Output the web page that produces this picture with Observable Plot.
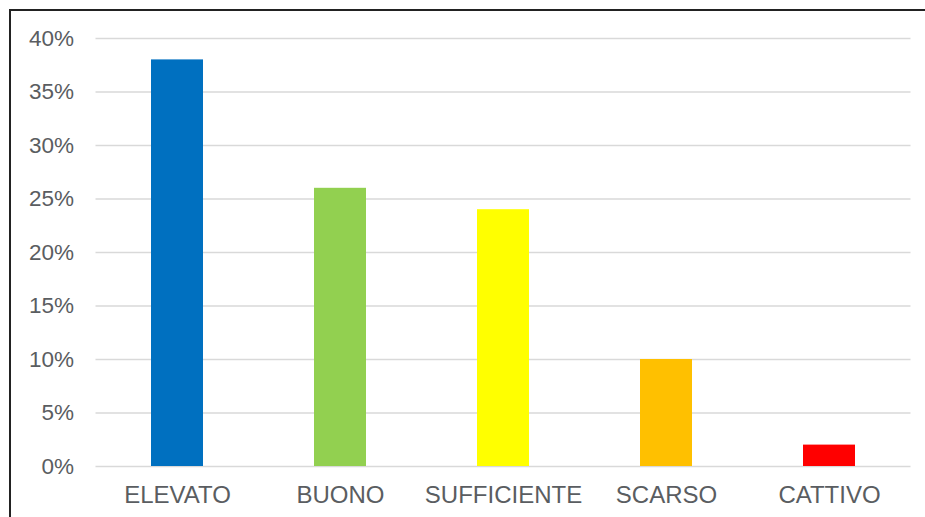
<!DOCTYPE html>
<html>
<head>
<meta charset="utf-8">
<script src="https://cdn.jsdelivr.net/npm/d3@7"></script>
<script src="https://cdn.jsdelivr.net/npm/@observablehq/plot@0.6"></script>
<style>
  html, body { margin: 0; padding: 0; background: #fff; }
  #wrap { position: relative; width: 925px; height: 517px; overflow: hidden; }
  #frame { position: absolute; left: 9px; top: 9px; width: 930px; height: 520px;
           border-left: 2px solid #222; border-top: 2px solid #222; pointer-events: none; }
  svg { display: block; }
</style>
</head>
<body>
<div id="wrap"><div id="frame"></div></div>
<script>
const categories = ["ELEVATO", "BUONO", "SUFFICIENTE", "SCARSO", "CATTIVO"];
const values = [0.38, 0.26, 0.24, 0.10, 0.02];
const colors = ["#0070C0", "#92D050", "#FFFF00", "#FFC000", "#FF0000"];
const yTicks = [0, 0.05, 0.10, 0.15, 0.20, 0.25, 0.30, 0.35, 0.40];

const data = categories.map((c, i) => ({category: c, value: values[i], color: colors[i]}));

const chart = Plot.plot({
  width: 925,
  height: 517,
  marginLeft: 95.5,
  marginRight: 14.5,
  marginTop: 38,
  marginBottom: 51,
  style: {fontFamily: "'Liberation Sans', Arial, sans-serif", fontSize: "22px", color: "#5a5d61", background: "transparent"},
  x: {domain: categories, paddingInner: 0.68, paddingOuter: 0.34, label: null},
  y: {domain: [0, 0.4], label: null},
  marks: [
    Plot.gridY(yTicks, {stroke: "#d9d9d9", strokeOpacity: 1, strokeWidth: 1.5}),
    Plot.barY(data, {x: "category", y: "value", fill: "color"}),
    Plot.axisY(yTicks, {tickSize: 0, tickPadding: 22, tickFormat: d => Math.round(d * 100) + "%", fill: "#5a5d61", fontSize: 22.5, label: null}),
    Plot.axisX({tickSize: 0, tickPadding: 19, fill: "#5a5d61", fontSize: 24, label: null})
  ]
});
document.getElementById("wrap").prepend(chart);
</script>
</body>
</html>
